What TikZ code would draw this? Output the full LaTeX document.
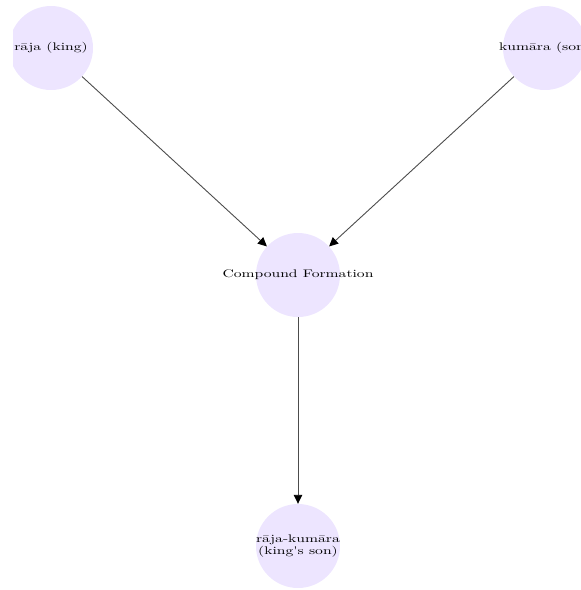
\documentclass[tikz,border=0pt]{standalone}
\usepackage{fontspec}
\usepackage{tikz}
\usetikzlibrary{shapes.geometric, arrows.meta}
\newfontfamily\nodefont[FakeStretch=1.42]{Latin Modern Roman}
\definecolor{lavender}{RGB}{237,229,255}
\newcommand{\wordtext}[1]{\makebox[0pt]{\begin{tabular}{@{}c@{}}#1\end{tabular}}}
\tikzstyle{word} = [circle, minimum size=84pt, inner sep=0pt, fill=lavender, font=\nodefont\fontsize{11}{12.5}\selectfont]
\tikzstyle{arrow} = [line width=0.9pt, draw=black!70, -{Triangle[length=9pt, width=8.5pt, color=black]}]

\begin{document}
\begin{tikzpicture}[node distance=247pt, x=1pt, y=1pt]
\useasboundingbox (0,0) rectangle (581,-590);
\clip (13,0) rectangle (581,-590);

% Nodes / blocks
\node (raja) [word] at (51,-48) {\wordtext{rāja (king)}};
\node (kumara) [word, right of=raja, xshift=247pt] {\wordtext{kumāra (son)}};
\node (compound) [word, below of=raja, xshift=247pt, yshift=20pt] {\wordtext{Compound Formation}};
\node (rajakumara) [word, below of=compound, yshift=-24pt] {\wordtext{rāja-kumāra\\(king's son)}};

% Arrows
\draw [arrow] (raja) -- (compound);
\draw [arrow] (kumara) -- (compound);
\draw [arrow] (compound) -- (rajakumara);

\end{tikzpicture}
\end{document}
